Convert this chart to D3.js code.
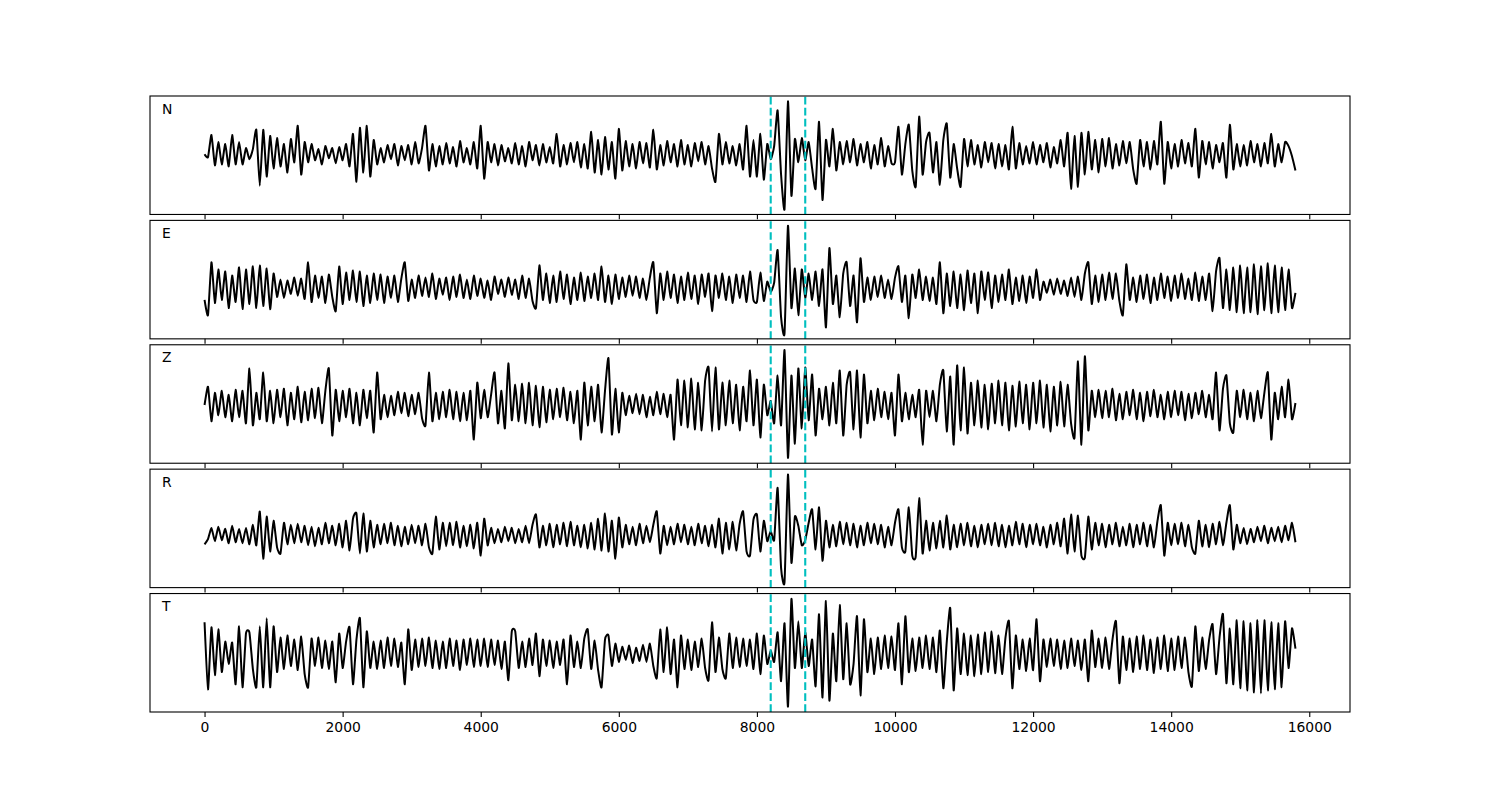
<!DOCTYPE html>
<html>
<head>
<meta charset="utf-8">
<script src="https://cdn.jsdelivr.net/npm/d3@7"></script>
<style>
  html, body { margin: 0; padding: 0; background: #fff; }
  text { font-family: "DejaVu Sans", sans-serif; }
</style>
</head>
<body>
<svg id="chart" width="1500" height="800"></svg>
<script>
// channel names, one panel each
const channels = ["N", "E", "Z", "R", "T"];
// sample spacing of the traces (x axis units)
const dt = 50;
// the two picks drawn as dashed lines
const pickTimes = [8200, 8700];
const xTicks = [0, 2000, 4000, 6000, 8000, 10000, 12000, 14000, 16000];

// trace amplitudes, one value every dt
const traceN = [
  0, -3, 19, -11, 12, -10, 10, -12, 19, -10,
  12, -10, 6, -5, 5, 24, -31, 24, -22, 18,
  -14, 16, -12, 10, -18, 15, -8, 28, -20, 12,
  -8, 10, -6, 5, -10, 8, -4, 6, -9, 7,
  -6, 10, -12, 20, -27, 26, -18, 28, -22, 14,
  -10, 6, -8, 9, -5, 10, -11, 8, -6, 9,
  -10, 12, -9, 6, 28, -16, 10, -12, 8, -10,
  11, -9, 7, -12, 13, -8, 6, -10, 12, -14,
  28, -24, 12, -8, 10, -11, 9, -7, 6, -9,
  11, -10, 8, -12, 12, -6, 9, -11, 10, -8,
  7, -9, 20, -12, 9, -10, 11, -8, 12, -13,
  10, -14, 22, -18, 14, -20, 17, -15, 12, -24,
  25, -16, 13, -12, 10, -14, 12, -9, 11, -13,
  24, -15, 9, -11, 13, -8, 10, -12, 14, -10,
  9, -12, 11, -7, 12, -10, 8, -14, -27, 20,
  -10, 12, -9, 8, -11, 10, -15, 28, -22, 14,
  -22, 20, -25, 10, -5, 8, 43, -20, -54, 52,
  -41, 15, -8, 16, -6, 12, -14, -34, 32, -45,
  14, -12, 25, -16, 12, -10, 13, -8, 15, -11,
  10, -8, 12, -14, 9, -10, 16, -12, 8, -9,
  -8, 27, -20, 10, 29, -16, -32, 37, -20, 12,
  21, -18, 12, -30, 14, 30, -23, 10, -14, -32,
  15, -12, 14, -10, 9, -13, 12, -8, 11, -14,
  10, -12, 9, -15, 27, -14, 11, -10, 8, -9,
  12, -10, 9, -8, 11, -13, 7, -9, 14, -12,
  21, -34, 18, -32, 21, -20, 22, -15, 14, -18,
  15, -12, 16, -14, 10, -11, 13, -9, 12, -15,
  -29, 14, -12, 12, -15, 13, -10, 32, -29, 12,
  -14, 10, -12, 14, -9, 11, -12, 25, -23, 13,
  -10, 12, -14, 9, -8, 11, -23, 29, -15, 10,
  -12, 9, -11, 13, -8, 10, -12, 11, -9, 20,
  -12, 10, -8, 12, 8, -2, -16
];
const traceE = [
  -12, -27, 25, -15, 18, -12, 16, -20, 12, -14,
  20, -21, 18, -16, 21, -20, 22, -18, 19, -21,
  14, -9, 8, -10, 7, -6, 10, -8, 9, -11,
  25, -14, 12, -10, 11, -15, 13, -9, -23, 21,
  -16, 15, -12, 17, -14, 16, -18, 12, -15, 14,
  -12, 13, -15, 11, -10, 12, -14, 9, 25, -13,
  8, -10, 12, -8, 10, -9, 14, -11, 9, -7,
  10, -12, 11, -9, 13, -10, 8, -11, 12, -8,
  9, -10, 7, -12, 11, -6, 8, -9, 10, -7,
  8, -11, 12, -10, 9, -13, -20, 22, -12, 14,
  -15, 12, -14, 16, -11, 13, -16, 10, -12, 15,
  -13, 11, -10, 14, -12, 21, -14, 12, -16, 13,
  -11, 10, -9, 12, -8, 11, -10, 9, -12, 10,
  25, -25, 14, -12, 16, -10, 13, -15, 11, -12,
  15, -11, 12, -16, 13, -9, 14, -23, 12, -10,
  14, -12, 11, -15, 13, -10, 12, -14, 16, -12,
  -14, 15, -13, 6, -4, 5, 37, -29, -45, 61,
  -20, 19, -27, 18, -10, 14, -12, 16, -18, 18,
  -39, 39, -16, 12, -29, 14, 25, -18, 12, -34,
  29, -14, 10, -12, 11, -9, 12, -10, 8, -11,
  10, 21, -14, 12, -30, 13, -10, 18, -12, 11,
  -13, 10, -16, 25, -25, 14, -18, 16, -20, 13,
  -22, 17, -15, 14, -25, 16, -12, 15, -20, 12,
  -14, 13, -12, 18, -16, 10, -13, 12, -15, 11,
  -10, 18, -12, 6, -5, 8, -7, 9, -6, 7,
  -8, 10, -9, 11, -12, 14, 25, -16, 12, -14,
  13, -12, 15, -11, 14, -13, -27, 23, -12, 10,
  -14, 12, -11, 13, -15, 10, -12, 14, -10, 11,
  -13, 12, -10, 14, -11, 9, -12, 15, -13, 11,
  -12, 14, -23, 16, 29, -20, 18, -22, 20, -24,
  22, -25, 20, -24, 23, -26, 21, -22, 24, -25,
  22, -24, 20, -22, 18, -20, -5
];
const traceZ = [
  0, 18, -16, 12, -10, 14, -12, 10, -16, 15,
  -12, 14, -18, 36, -20, 12, -14, 32, -16, 14,
  -18, 15, -12, 16, -20, 12, -14, 18, -17, 13,
  -15, 16, -13, 17, -18, 14, 36, -30, 15, -16,
  14, -12, 16, -18, 12, -20, 15, -13, 14, -27,
  32, -14, 10, -12, 9, -10, 13, -8, 12, -11,
  10, -9, 12, -13, -20, 32, -16, 12, -14, 13,
  -12, 15, -14, 13, -16, 12, -15, 14, -34, 22,
  -13, 15, -12, 10, 32, -18, 14, -23, 41, -15,
  20, -16, 21, -18, 22, -20, 19, -22, 18, -17,
  15, -14, 16, -12, 17, -15, 13, -18, 14, -34,
  22, -20, 18, -16, 20, -27, 14, 46, -29, 16,
  -27, 12, -10, 9, -8, 11, -9, 10, -12, 8,
  -10, 13, -9, 11, -12, 10, -34, 25, -20, 24,
  -22, 26, -24, 22, -25, 24, 37, -26, 37, -24,
  22, -20, 24, -18, 20, -25, 18, -16, 34, -20,
  25, -32, 20, -10, 4, -18, 29, -20, 54, -52,
  29, -38, 36, -23, 37, -15, 30, -30, 16, -14,
  18, -20, 22, -18, 34, -30, 20, 32, -24, 34,
  -32, 30, -18, 14, -15, 16, -12, 13, -14, 12,
  -30, 30, -16, 12, -14, 10, -12, 15, -39, 14,
  -12, 14, -16, 20, 34, -26, 28, -39, 39, -25,
  37, -28, 22, -20, 24, -22, 20, -24, 21, -18,
  24, -20, 22, -25, 19, -21, 23, -18, 20, -24,
  22, -18, 24, -22, 20, -26, 18, -20, 23, -21,
  20, -18, -32, 43, -39, 48, -25, 14, -12, 15,
  -13, 14, -12, 16, -15, 11, -14, 13, -10, 15,
  -14, 12, -16, 13, -11, 15, -12, 10, -14, 13,
  -12, 14, -10, 13, -15, 11, -13, 12, -9, 14,
  -12, 10, -14, 32, -25, 16, 29, -18, -27, 14,
  -12, 15, -14, 12, -16, 14, -13, 12, 32, -34,
  12, -14, 18, -12, 25, -14, 2
];
const traceR = [
  -9, -4, 7, -6, 8, -5, 6, -8, 9, -7,
  6, -8, 7, -9, 10, -10, 23, -23, 18, -16,
  14, -12, -18, 12, -9, 10, -8, 11, -7, 9,
  -10, 8, -11, 7, -9, 12, -8, 9, -10, 11,
  -12, 14, -15, 16, 21, -18, 21, -16, 14, -12,
  10, -9, 11, -8, 12, -10, 9, -11, 8, -9,
  10, -8, 9, -10, 11, -12, -18, 18, -14, 12,
  -11, 12, -10, 13, -12, 9, -11, 10, -13, 12,
  -20, 16, -10, 7, -8, 6, -7, 8, -6, 7,
  -8, 6, -7, 9, -8, 10, 20, -12, 9, -10,
  11, -12, 10, -9, 12, -11, 13, -10, 9, -12,
  10, -13, 12, -14, 16, -15, 21, -16, 14, -23,
  17, -12, 10, -9, 8, -10, 11, -8, 9, -7,
  10, 23, -18, 9, -10, 8, -9, 11, -7, 10,
  -9, 8, -10, 11, -8, 9, -11, 10, -12, 16,
  -18, 12, -14, 13, -15, 11, 23, -16, -20, 15,
  20, -16, 14, -6, 4, -5, 46, -32, -46, 59,
  -27, 18, 9, -10, -5, 12, 25, -14, 27, -25,
  14, -12, 10, -11, 13, -9, 12, -10, 11, -12,
  9, -10, 12, -8, 11, -9, 10, -12, 8, -10,
  12, 25, -12, -16, 27, -20, -21, 36, -18, 14,
  -15, 12, -13, 14, -12, 19, -14, 10, -12, 11,
  -10, 12, -11, 9, -12, 10, -9, 11, -10, 12,
  -11, 10, -12, 9, -10, 13, -9, 11, -12, 10,
  -9, 11, -10, 8, -12, 10, -9, 12, -11, 16,
  -18, 20, -16, 19, -20, -22, 18, -14, 12, -10,
  11, -12, 10, -9, 12, -11, 8, -10, 11, -12,
  10, -9, 12, -11, 10, -12, 13, 29, -20, 12,
  -10, 11, -9, 12, -11, 10, -12, -18, 14, -11,
  10, -12, 11, -9, 13, -10, 12, 29, -14, 10,
  -8, 7, -9, 6, -7, 8, -6, 9, -8, 7,
  -6, 8, -7, 9, -5, 12, -7
];
const traceT = [
  31, -35, 26, -21, 24, -18, 12, -10, 11, -30,
  27, -33, 20, 21, -15, -33, 27, -33, 35, -33,
  27, -18, 16, -15, 18, -12, 14, -16, 17, -20,
  -33, 15, -12, 16, -14, 13, -15, 12, -28, 20,
  -14, 12, 26, -30, 14, 35, -33, 22, -14, 12,
  -15, 13, -14, 16, -12, 15, -13, 11, -30, 24,
  -16, 14, -13, 15, -12, 16, -14, 13, -15, 12,
  -14, 15, -12, 13, -16, 14, -11, 15, -13, 14,
  -12, 15, -13, 14, -11, 13, -15, 12, -26, 22,
  22, -14, 12, -13, 15, -11, 20, -22, 14, -12,
  13, -14, 12, -11, 14, -30, 18, -13, 12, -14,
  15, 24, -15, 13, -16, -33, 14, 18, -12, 10,
  -8, 7, -6, 8, -9, 6, -7, 9, -8, 10,
  -12, -24, 24, -18, 26, -20, 14, -33, 18, -15,
  14, -16, 12, -13, 15, -14, -26, 31, -18, 16,
  -15, -24, 20, -14, 16, -13, 15, -12, 14, -15,
  20, -20, 18, -10, 3, -8, 21, -27, 30, -52,
  54, -14, 32, -14, 21, -12, 14, -32, 39, -43,
  52, -46, 20, -27, 48, -25, 30, -30, -10, 37,
  -41, 34, -18, 15, -20, 16, -15, 18, -14, 17,
  -16, 30, -30, 37, -18, 15, -17, 16, -14, 18,
  -15, 16, -18, 23, -34, 12, 45, -36, 25, -20,
  20, -21, 18, -22, 19, -20, 21, -18, 22, -19,
  18, -20, 16, 32, -34, 18, -15, 14, -17, 15,
  -16, 34, -27, 14, -13, 15, -12, 14, -15, 13,
  -14, 15, -12, 13, -16, 14, -27, 23, -13, 15,
  -14, 16, -15, 14, 32, -29, 17, -16, 15, -18,
  17, -15, 18, -16, 14, -19, 16, -15, 18, -17,
  15, -16, 17, -14, 16, -18, -32, 27, -17, 16,
  -15, 14, 29, -20, 16, 39, -29, 25, -30, 33,
  -34, 32, -36, 30, -38, 33, -39, 33, -36, 31,
  -35, 30, -33, 32, -14, 25, 5
];
const traces = [traceN, traceE, traceZ, traceR, traceT];

const width = 1500, height = 800;
const margin = { left: 150, right: 1350, top: 96, bottom: 712 };
const hspace = 0.05;
const panelH = (margin.bottom - margin.top) / (channels.length + (channels.length - 1) * hspace);
const gap = panelH * hspace;

const svg = d3.select("#chart");
svg.append("rect").attr("width", width).attr("height", height).attr("fill", "#fff");

// matplotlib style 5% margins on the x data range
const xMax = dt * (traceN.length - 1);
const x = d3.scaleLinear()
  .domain([-0.05 * xMax, xMax * 1.05])
  .range([margin.left, margin.right]);

channels.forEach((name, k) => {
  const values = traces[k];
  const y0 = margin.top + k * (panelH + gap);
  const [lo, hi] = d3.extent(values);
  const pad = 0.05 * (hi - lo);
  const y = d3.scaleLinear().domain([lo - pad, hi + pad]).range([y0 + panelH, y0]);

  const g = svg.append("g").attr("class", "panel-" + name);

  // a tighter cardinal curve keeps the peaks pointed like the original
  const line = d3.line()
    .x((d, i) => x(i * dt))
    .y(d => y(d))
    .curve(d3.curveCardinal.tension(0.5));

  g.append("path")
    .datum(values)
    .attr("d", line)
    .attr("fill", "none")
    .attr("stroke", "#000")
    .attr("stroke-width", 2)
    .attr("stroke-linejoin", "round");

  // picks
  g.selectAll("line.pick")
    .data(pickTimes)
    .join("line")
    .attr("class", "pick")
    .attr("x1", d => x(d)).attr("x2", d => x(d))
    .attr("y1", y0 + panelH).attr("y2", y0)
    .attr("stroke", "#00bfbf")
    .attr("stroke-width", 2.1)
    .attr("stroke-dasharray", "7.7,3.3");

  // frame
  g.append("rect")
    .attr("x", margin.left).attr("y", y0)
    .attr("width", margin.right - margin.left).attr("height", panelH)
    .attr("fill", "none")
    .attr("stroke", "#000")
    .attr("stroke-width", 1.1);

  // x ticks on every panel, labels on the last one
  const isLast = k === channels.length - 1;
  const axis = d3.axisBottom(x)
    .tickValues(xTicks)
    .tickSize(4.9)
    .tickSizeOuter(0)
    .tickPadding(4.9)
    .tickFormat(isLast ? d3.format("d") : "");
  const ag = g.append("g")
    .attr("transform", `translate(0,${y0 + panelH})`)
    .call(axis);
  ag.select(".domain").remove();
  ag.selectAll(".tick line").attr("stroke", "#000").attr("stroke-width", 1.1);
  ag.selectAll(".tick text")
    .attr("fill", "#000")
    .style("font-family", "'DejaVu Sans', sans-serif")
    .style("font-size", "13.9px");

  g.append("text")
    .attr("x", margin.left + 12)
    .attr("y", y0 + 17.5)
    .attr("fill", "#000")
    .style("font-size", "13.9px")
    .text(name);
});
</script>
</body>
</html>
